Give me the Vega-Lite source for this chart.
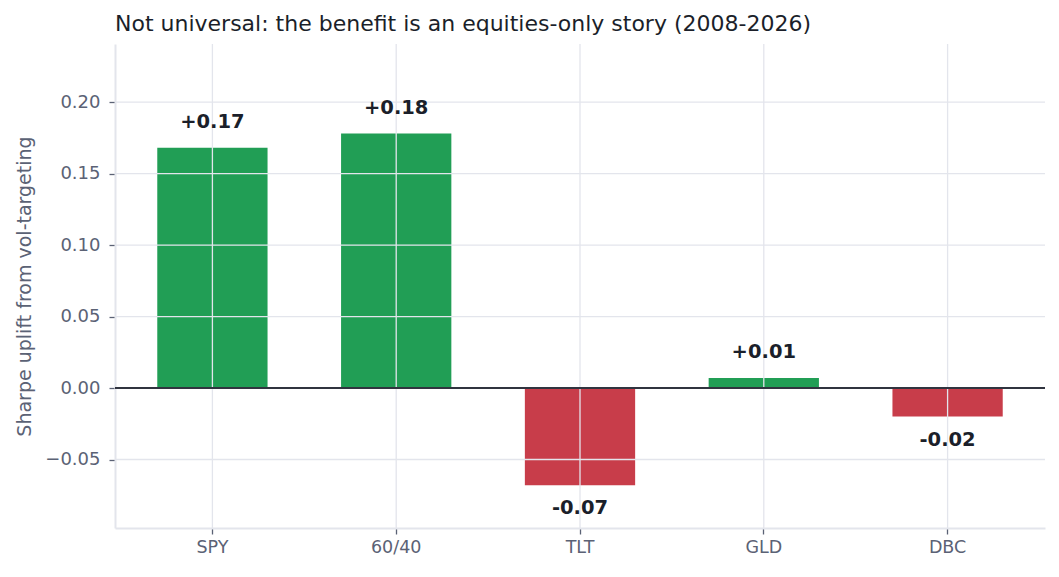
{
  "$schema": "https://vega.github.io/schema/vega-lite/v6.json",
  "autosize": "none",
  "padding": {"left": 115, "top": 44, "right": 14, "bottom": 49},
  "width": 930,
  "height": 484,
  "background": "white",
  "title": {
    "text": "Not universal: the benefit is an equities-only story (2008-2026)",
    "anchor": "start",
    "frame": "group",
    "fontSize": 22,
    "fontWeight": "normal",
    "color": "#1b1f2a",
    "font": "DejaVu Sans",
    "offset": 7
  },
  "config": {
    "font": "DejaVu Sans",
    "view": {"stroke": null},
    "axis": {
      "labelFont": "DejaVu Sans",
      "titleFont": "DejaVu Sans",
      "labelColor": "#5b6275",
      "titleColor": "#5b6275",
      "labelFontSize": 17.5,
      "titleFontSize": 19,
      "titleFontWeight": "normal",
      "domainColor": "#e3e5ec",
      "domainWidth": 2,
      "tickColor": "#5b6275",
      "tickSize": 6,
      "tickWidth": 1.3,
      "grid": false
    }
  },
  "datasets": {
    "uplift": [
      {"asset": "SPY", "uplift": 0.168, "label": "+0.17"},
      {"asset": "60/40", "uplift": 0.178, "label": "+0.18"},
      {"asset": "TLT", "uplift": -0.068, "label": "-0.07"},
      {"asset": "GLD", "uplift": 0.007, "label": "+0.01"},
      {"asset": "DBC", "uplift": -0.020, "label": "-0.02"}
    ],
    "ticks": [
      {"tick": -0.05},
      {"tick": 0.05},
      {"tick": 0.1},
      {"tick": 0.15},
      {"tick": 0.2},
      {"tick": 0}
    ]
  },
  "layer": [
    {
      "data": {"name": "uplift"},
      "mark": {"type": "bar"},
      "encoding": {
        "x": {
          "field": "asset",
          "type": "nominal",
          "sort": null,
          "title": null,
          "scale": {"paddingInner": 0.4, "paddingOuter": 0.23},
          "axis": {"labelAngle": 0, "labelPadding": 4, "labelFontSize": 17.5}
        },
        "y": {
          "field": "uplift",
          "type": "quantitative",
          "title": "Sharpe uplift from vol-targeting",
          "scale": {"domain": [-0.0979, 0.2406], "nice": false, "zero": false},
          "axis": {
            "values": [-0.05, 0, 0.05, 0.1, 0.15, 0.2],
            "format": ".2f",
            "labelFontSize": 18,
            "labelPadding": 9,
            "titlePadding": 10
          }
        },
        "color": {
          "condition": {"test": "datum.uplift >= 0", "value": "#219e55"},
          "value": "#c83d4a"
        }
      }
    },
    {
      "data": {"name": "uplift"},
      "mark": {"type": "rule", "color": "#e3e5ec", "strokeWidth": 1.3},
      "encoding": {
        "x": {"field": "asset", "type": "nominal", "sort": null}
      }
    },
    {
      "data": {"name": "ticks"},
      "mark": {"type": "rule"},
      "encoding": {
        "y": {"field": "tick", "type": "quantitative", "title": "Sharpe uplift from vol-targeting"},
        "color": {
          "condition": {"test": "datum.tick === 0", "value": "#30343f"},
          "value": "#e3e5ec"
        },
        "strokeWidth": {
          "condition": {"test": "datum.tick === 0", "value": 2},
          "value": 1.3
        }
      }
    },
    {
      "data": {"name": "uplift"},
      "transform": [{"filter": "datum.uplift >= 0"}],
      "mark": {"type": "text", "dy": -26, "baseline": "middle", "fontSize": 19.5, "fontWeight": "bold", "color": "#1b1f2a"},
      "encoding": {
        "x": {"field": "asset", "type": "nominal", "sort": null},
        "y": {"field": "uplift", "type": "quantitative"},
        "text": {"field": "label"}
      }
    },
    {
      "data": {"name": "uplift"},
      "transform": [{"filter": "datum.uplift < 0"}],
      "mark": {"type": "text", "dy": 23, "baseline": "middle", "fontSize": 19.5, "fontWeight": "bold", "color": "#1b1f2a"},
      "encoding": {
        "x": {"field": "asset", "type": "nominal", "sort": null},
        "y": {"field": "uplift", "type": "quantitative"},
        "text": {"field": "label"}
      }
    }
  ]
}
